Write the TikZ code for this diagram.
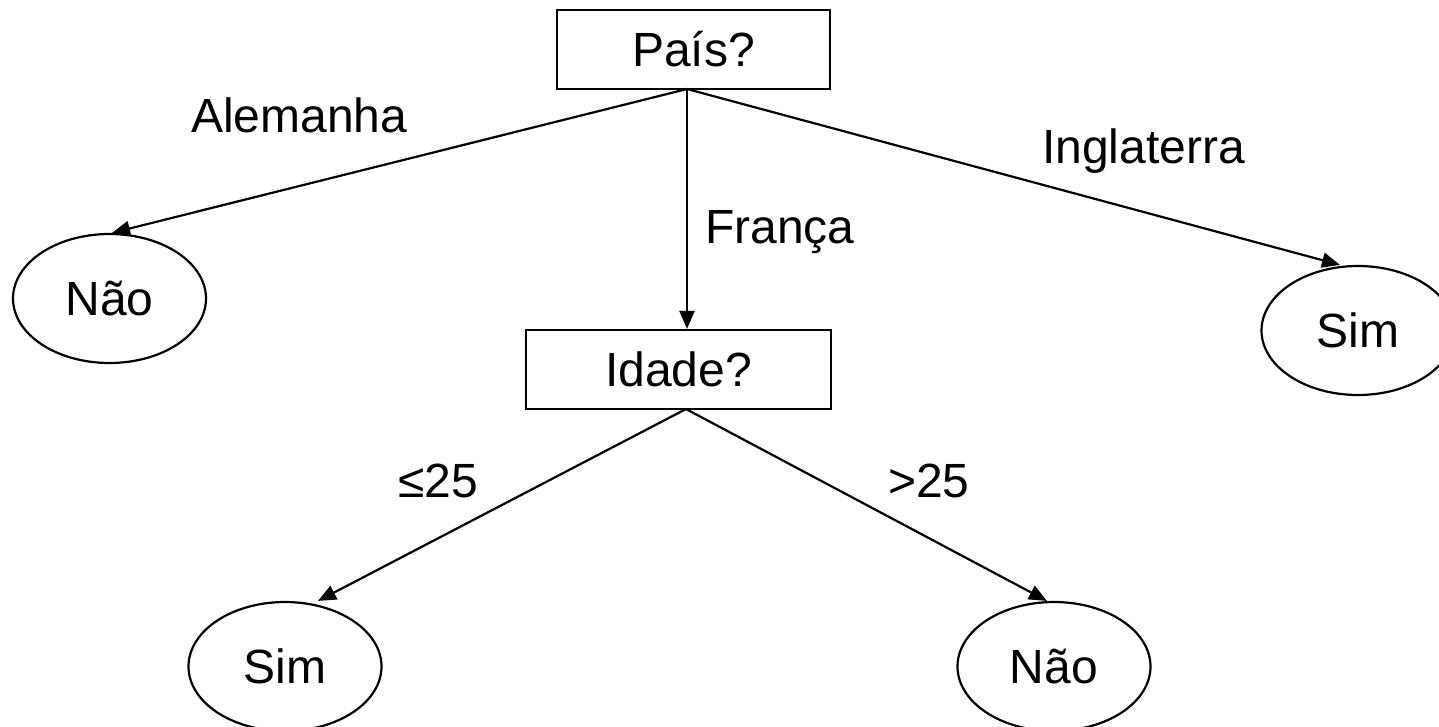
\documentclass[tikz,border=0pt]{standalone}
\usepackage{fontspec}
\setmainfont{Liberation Sans}
\usetikzlibrary{shapes.geometric,arrows.meta}
\tikzset{
  qbox/.style={draw, line width=2.2pt, rectangle, inner sep=0pt, minimum height=79pt, font=\fontsize{48}{56}\selectfont},
  leaf/.style={draw, line width=2.2pt, ellipse, inner sep=0pt, minimum width=193pt, minimum height=129pt, font=\fontsize{48}{56}\selectfont},
  edge/.style={line width=2.2pt, -{Triangle[length=18pt,width=15pt]}},
  lbl/.style={anchor=base west, inner sep=0pt, font=\fontsize{48}{56}\selectfont}
}
\begin{document}
\begin{tikzpicture}[x=1pt,y=-1pt]
\useasboundingbox (0,0) rectangle (1439,726);
\node[qbox, minimum width=273pt] (pais) at (693.5,49.5) {País?};
\node[qbox, minimum width=305pt] (idade) at (678.5,369.5) {Idade?};
\node[leaf] (nao1) at (109.5,298.5) {Não};
\node[leaf] (sim1) at (1358,330.5) {Sim};
\node[leaf] (sim2) at (285,666.5) {Sim};
\node[leaf] (nao2) at (1054,666.5) {Não};
\coordinate (ps) at (687,89);
\coordinate (is) at (686,409);
\draw[edge] (ps) -- ([xshift=2.5pt]nao1.north);
\draw[edge] (ps) -- ([xshift=8.5pt]idade.north);
\draw[edge] (ps) -- ([xshift=-18pt]sim1.north);
\draw[edge] (is) -- ([xshift=33pt]sim2.north);
\draw[edge] (is) -- ([xshift=-7pt]nao2.north);
\node[lbl] (lalem) at (191,132) {Alemanha};
\node[lbl] (lfran) at (705,243) {França};
\node[lbl] (lingl) at (1042,163) {Inglaterra};
\node[lbl] (lle) at (398,497) {≤25};
\node[lbl] (lgt) at (888,497) {>25};
\end{tikzpicture}
\end{document}
